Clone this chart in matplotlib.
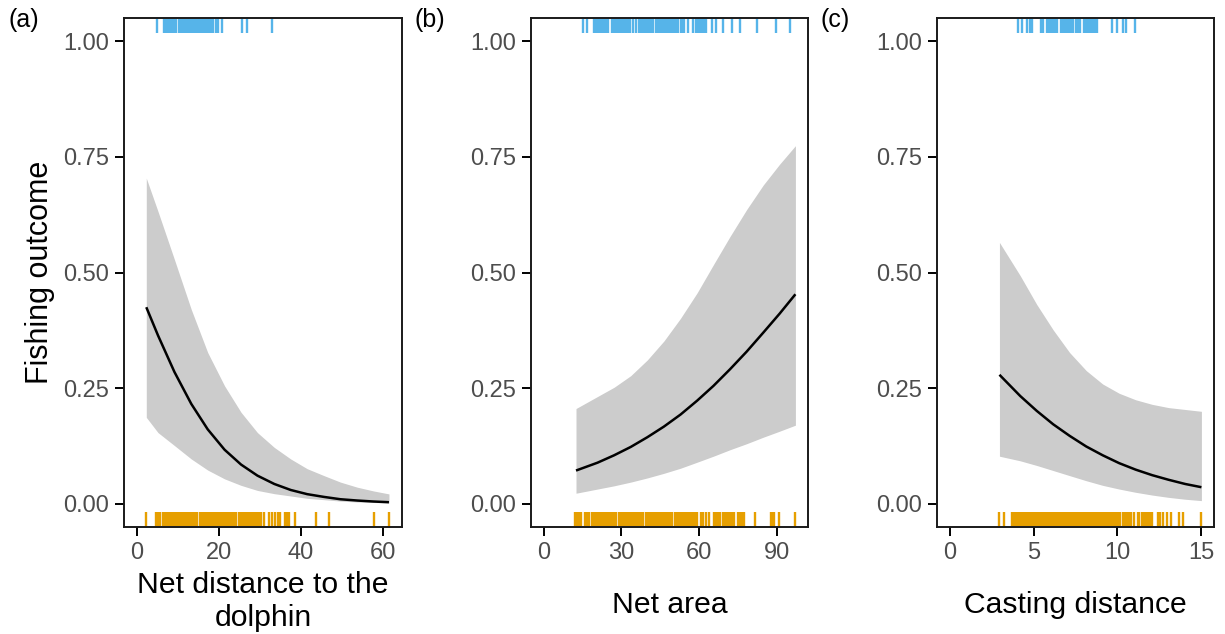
import matplotlib
matplotlib.use("Agg")
import matplotlib.pyplot as plt
import matplotlib.transforms as mtransforms

plt.rcParams['font.family'] = ['Liberation Sans', 'DejaVu Sans']

# ---------------- data ----------------
a_x = [2.35, 5.2, 9.2, 13.3, 17.3, 21.4, 25.4, 29.4, 33.5, 37.5, 41.5, 45.6, 49.6, 53.7, 57.6, 61.4]
a_fit = [0.425, 0.364, 0.285, 0.216, 0.161, 0.117, 0.085, 0.061, 0.043, 0.030, 0.021, 0.015, 0.010, 0.0072, 0.0051, 0.0036]
a_hi = [0.704, 0.632, 0.528, 0.420, 0.327, 0.255, 0.198, 0.154, 0.122, 0.097, 0.076, 0.061, 0.047, 0.036, 0.028, 0.0215]
a_lo = [0.187, 0.154, 0.126, 0.097, 0.073, 0.054, 0.040, 0.029, 0.022, 0.017, 0.012, 0.009, 0.006, 0.004, 0.003, 0.002]

b_x = [12.5, 20.8, 27.2, 33.6, 40.0, 46.4, 52.8, 59.2, 65.5, 71.9, 78.3, 84.7, 91.0, 97.1]
b_fit = [0.072, 0.089, 0.105, 0.123, 0.144, 0.167, 0.193, 0.223, 0.255, 0.291, 0.329, 0.370, 0.411, 0.453]
b_hi = [0.206, 0.232, 0.252, 0.277, 0.311, 0.352, 0.401, 0.456, 0.517, 0.578, 0.636, 0.689, 0.734, 0.774]
b_lo = [0.023, 0.032, 0.039, 0.047, 0.056, 0.066, 0.077, 0.090, 0.103, 0.117, 0.130, 0.144, 0.157, 0.170]

c_x = [2.97, 4.21, 5.19, 6.17, 7.15, 8.14, 9.12, 10.10, 11.08, 12.07, 13.05, 14.03, 15.0]
c_fit = [0.279, 0.233, 0.201, 0.172, 0.147, 0.124, 0.105, 0.088, 0.074, 0.062, 0.052, 0.043, 0.036]
c_hi = [0.565, 0.493, 0.431, 0.376, 0.327, 0.288, 0.259, 0.239, 0.225, 0.215, 0.208, 0.204, 0.200]
c_lo = [0.103, 0.093, 0.083, 0.072, 0.061, 0.050, 0.040, 0.032, 0.025, 0.019, 0.014, 0.010, 0.007]

# rug: successes (top, blue) and failures (bottom, orange)
a_success = [4.85, 6.6, 7.0, 7.4, 7.8, 8.2, 8.6, 9.0, 9.5, 10.3, 10.7, 11.1, 11.5, 11.9, 12.3,
             12.7, 13.1, 13.5, 13.9, 14.3, 14.7, 15.1, 15.5, 15.9, 16.3, 16.7, 17.1, 17.5, 17.9,
             18.3, 18.7, 19.2, 19.7, 20.8, 25.6, 26.9, 32.9]
a_failure = [2.35, 4.8, 5.3, 5.8, 6.3, 6.8, 7.3, 7.8, 8.3, 8.8, 9.3, 9.8, 10.3, 10.8, 11.3, 11.8,
             12.3, 12.8, 13.3, 13.8, 14.3, 14.8, 15.3, 15.8, 16.3, 16.8, 17.3, 17.8, 18.3, 18.8,
             19.3, 19.8, 20.3, 20.8, 21.3, 21.8, 22.3, 22.8, 23.3, 23.8, 24.3, 24.8, 25.3, 25.8,
             26.3, 26.8, 27.3, 27.8, 28.3, 28.8, 29.3, 29.8, 30.3, 31.1, 32.1, 32.9, 33.7, 34.5,
             35.0, 36.1, 36.6, 37.0, 38.6, 43.7, 46.9, 57.8, 61.5]

b_success = [15.1, 16.9, 19.4, 20.2, 21.0, 21.8, 22.6, 23.4, 24.2, 24.9, 26.2, 27.0, 27.8, 28.6,
             29.4, 30.2, 31.0, 31.8, 32.6, 33.4, 34.5, 35.8, 36.6, 37.4, 38.2, 39.0, 39.8, 40.6,
             41.4, 42.1, 43.2, 44.0, 44.8, 45.6, 46.4, 47.2, 48.0, 48.8, 49.6, 50.4, 51.2, 52.0,
             52.8, 53.6, 54.3, 55.6, 57.5, 58.8, 59.4, 60.2, 61.0, 61.8, 62.6, 65.1, 66.4, 69.0,
             72.8, 75.6, 82.4, 89.7, 95.2]
b_failure = [12.1, 12.9, 13.7, 14.5, 16.1, 16.9, 17.7, 18.5, 19.3, 20.1, 20.9, 21.7, 22.5, 23.3,
             24.1, 24.9, 25.7, 26.5, 27.3, 28.1, 28.9, 29.7, 30.5, 31.3, 32.1, 32.9, 33.7, 34.5,
             35.3, 36.1, 36.9, 37.7, 38.5, 39.3, 40.1, 40.9, 41.7, 42.5, 43.3, 44.1, 44.9, 45.7,
             46.5, 47.3, 48.1, 48.9, 49.7, 50.5, 51.3, 52.1, 52.9, 53.7, 54.5, 55.3, 56.1, 56.9,
             57.7, 58.5, 59.3, 60.7, 61.6, 62.6, 63.9, 65.8, 66.6, 67.4, 68.2, 69.0, 69.8, 70.6,
             71.4, 72.2, 73.0, 73.4, 75.1, 75.9, 76.6, 77.3, 81.5, 87.5, 88.1, 88.8, 90.7, 96.8]

c_success = [4.09, 4.32, 4.64, 4.78, 4.91, 5.46, 5.58, 5.82, 5.94, 6.06, 6.18, 6.30, 6.42, 6.66,
             6.78, 6.90, 7.02, 7.14, 7.26, 7.38, 7.50, 7.62, 7.74, 7.98, 8.10, 8.22, 8.37, 8.49,
             8.61, 8.73, 8.81, 9.69, 9.98, 10.34, 10.48, 11.07]
c_failure = [2.95, 3.24, 3.70, 3.82, 3.94, 4.06, 4.18, 4.30, 4.42, 4.54, 4.66, 4.78, 4.90, 5.02,
             5.14, 5.26, 5.38, 5.50, 5.62, 5.74, 5.86, 5.98, 6.10, 6.22, 6.34, 6.46, 6.58, 6.70,
             6.82, 6.94, 7.06, 7.18, 7.30, 7.42, 7.54, 7.66, 7.78, 7.90, 8.02, 8.14, 8.26, 8.38,
             8.50, 8.62, 8.74, 8.86, 8.98, 9.10, 9.22, 9.34, 9.46, 9.58, 9.70, 9.82, 9.94, 10.06,
             10.18, 10.30, 10.42, 10.54, 10.66, 10.81, 10.97, 11.20, 11.30, 11.46, 11.60, 11.72,
             11.84, 11.96, 12.05, 12.44, 12.56, 12.74, 12.93, 13.17, 13.68, 13.88, 15.0]

panel_tags = ["(a)", "(b)", "(c)"]
x_titles = ["Net distance to the\ndolphin", "Net area", "Casting distance"]
x_ticks = [[0, 20, 40, 60], [0, 30, 60, 90], [0, 5, 10, 15]]
x_max = [61.5, 97.1, 15.0]
y_ticks = [0.0, 0.25, 0.5, 0.75, 1.0]
y_ticklabels = ["0.00", "0.25", "0.50", "0.75", "1.00"]

BLUE = "#56B4E9"
ORANGE = "#E69F00"
RIBBON = "#CCCCCC"

W, H = 1225, 634
fig = plt.figure(figsize=(W / 100, H / 100), dpi=100)

lefts = [124, 531, 937]
widths = [278, 277, 277]
top_px, bot_px = 18, 527

panels = [
    (a_x, a_fit, a_hi, a_lo, a_success, a_failure),
    (b_x, b_fit, b_hi, b_lo, b_success, b_failure),
    (c_x, c_fit, c_hi, c_lo, c_success, c_failure),
]

for i, (xs, fit, hi, lo, succ, fail) in enumerate(panels):
    ax = fig.add_axes([lefts[i] / W, (H - bot_px) / H, widths[i] / W, (bot_px - top_px) / H])
    ax.fill_between(xs, lo, hi, color=RIBBON, linewidth=0, zorder=1)
    ax.plot(xs, fit, color="black", linewidth=1.8, zorder=3, solid_capstyle="butt")
    trans = mtransforms.blended_transform_factory(ax.transData, ax.transAxes)
    ax.vlines(succ, 0.97, 0.998, transform=trans, color=BLUE, linewidth=1.7, zorder=2)
    ax.vlines(fail, 0.002, 0.03, transform=trans, color=ORANGE, linewidth=1.7, zorder=2)

    xm = x_max[i]
    ax.set_xlim(-0.05 * xm, 1.05 * xm)
    ax.set_ylim(-0.05, 1.05)
    ax.set_xticks(x_ticks[i])
    ax.set_xticklabels([str(t) for t in x_ticks[i]])
    ax.set_yticks(y_ticks)
    ax.set_yticklabels(y_ticklabels)
    ax.tick_params(axis="both", length=6.5, width=1.4, color="black",
                   labelsize=17, labelcolor="#4D4D4D", pad=4)
    for s in ax.spines.values():
        s.set_linewidth(1.4)
        s.set_color("#1a1a1a")
    ax.set_xlabel(x_titles[i], fontsize=21.7, color="black",
                  labelpad=(5 if i == 0 else 20), linespacing=1.25)
    if i == 0:
        ax.set_ylabel("Fishing outcome", fontsize=22, color="black", labelpad=6)
    fig.text((lefts[i] - 116) / W, 1 - 20 / H, panel_tags[i], fontsize=18,
             ha="left", va="center", color="black")

fig.savefig("out.png", dpi=100)
